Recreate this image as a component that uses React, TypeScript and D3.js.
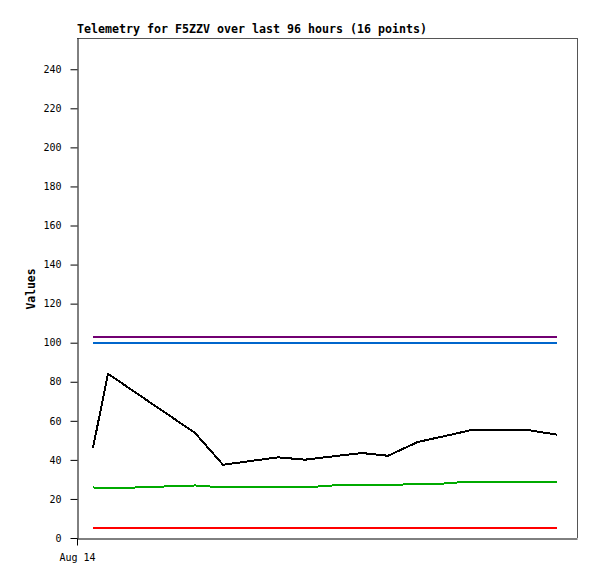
import React, { useEffect, useRef } from "react";
import * as d3 from "d3";

const title = "Telemetry for F5ZZV over last 96 hours (16 points)";
const yLabel = "Values";

const times = [
  "2024-08-14T03:04", "2024-08-14T05:57", "2024-08-14T11:43", "2024-08-14T17:05",
  "2024-08-14T22:39", "2024-08-15T04:02", "2024-08-15T14:35", "2024-08-15T19:47",
  "2024-08-16T01:09", "2024-08-16T06:43", "2024-08-16T11:43", "2024-08-16T17:28",
  "2024-08-16T22:28", "2024-08-17T03:27", "2024-08-17T14:59", "2024-08-17T20:10",
];

const blackValues = [46.1, 84.1, 73.6, 63.9, 53.8, 37.5, 41.3, 40.1, 41.8, 43.5, 42.1, 49.2, 52.1, 55.1, 55.1, 52.9];
const greenValues = [25.9, 25.4, 25.9, 26.4, 26.9, 25.9, 25.9, 25.9, 26.9, 26.9, 26.9, 27.9, 27.9, 28.9, 28.9, 28.9];
const purpleValues = [102.7, 102.7, 102.7, 102.7, 102.7, 102.7, 102.7, 102.7, 102.7, 102.7, 102.7, 102.7, 102.7, 102.7, 102.7, 102.7];
const blueValues = [99.6, 99.6, 99.6, 99.6, 99.6, 99.6, 99.6, 99.6, 99.6, 99.6, 99.6, 99.6, 99.6, 99.6, 99.6, 99.6];
const redValues = [4.9, 4.9, 4.9, 4.9, 4.9, 4.9, 4.9, 4.9, 4.9, 4.9, 4.9, 4.9, 4.9, 4.9, 4.9, 4.9];

const yTicks = [0, 20, 40, 60, 80, 100, 120, 140, 160, 180, 200, 220, 240];
const xTickDates = ["2024-08-14T00:00"];
const xTickLabels = ["Aug 14"];
const xDomain = ["2024-08-14T00:00", "2024-08-18T00:00"];
const yDomain = [0, 256];

const seriesList = [
  { name: "purple", values: purpleValues, color: "#720072" },
  { name: "blue", values: blueValues, color: "#0066cc" },
  { name: "red", values: redValues, color: "#ff0000" },
  { name: "green", values: greenValues, color: "#00aa00" },
  { name: "black", values: blackValues, color: "#000000" },
];

const W = 597;
const H = 579;
const left = 77;
const right = 577;
const top = 38;
const bottom = 538;

export default function App() {
  const yAxisRef = useRef<SVGGElement>(null);
  const xAxisRef = useRef<SVGGElement>(null);

  const parse = (s: string) => new Date(s);
  const x = d3.scaleTime().domain(xDomain.map(parse)).range([left, right]);
  const y = d3.scaleLinear().domain(yDomain).range([bottom, top]);
  const dates = times.map(parse);

  useEffect(() => {
    const ya = d3
      .axisLeft(y)
      .tickValues(yTicks)
      .tickSize(7)
      .tickSizeOuter(0)
      .tickPadding(9)
      .tickFormat((d) => String(d));
    const g = d3.select(yAxisRef.current!);
    g.call(ya as any);
    g.select(".domain").attr("stroke", "#000");
    g.selectAll(".tick line").attr("stroke", "#000");
    g.selectAll(".tick text")
      .attr("font-family", "DejaVu Sans Mono, monospace")
      .attr("font-size", 10)
      .attr("fill", "#000");

    const xa = d3
      .axisBottom(x)
      .tickValues(xTickDates.map(parse))
      .tickSize(7)
      .tickSizeOuter(0)
      .tickPadding(8)
      .tickFormat((_d, i) => xTickLabels[i]);
    const gx = d3.select(xAxisRef.current!);
    gx.call(xa as any);
    gx.select(".domain").attr("stroke", "#000");
    gx.selectAll(".tick line").attr("stroke", "#000");
    gx.selectAll(".tick text")
      .attr("font-family", "DejaVu Sans Mono, monospace")
      .attr("font-size", 10)
      .attr("fill", "#000");
  }, []);

  const line = d3
    .line<number>()
    .x((_d, i) => x(dates[i]))
    .y((d) => y(d));

  return (
    <svg
      width={W}
      height={H}
      style={{ position: "absolute", left: 0, top: 0, background: "#fff" }}
    >
      <rect x={0} y={0} width={W} height={H} fill="#fff" />
      <line x1={left} x2={right + 0.5} y1={top + 0.5} y2={top + 0.5} stroke="#555" />
      <line x1={right + 0.5} x2={right + 0.5} y1={top} y2={bottom} stroke="#555" />
      {seriesList.map((s) => (
        <path
          key={s.name}
          d={line(s.values) || ""}
          fill="none"
          stroke={s.color}
          strokeWidth={2}
          strokeLinejoin="round"
          shapeRendering="crispEdges"
        />
      ))}
      <g ref={yAxisRef} transform={`translate(${left + 0.5},0)`} />
      <g ref={xAxisRef} transform={`translate(0,${bottom + 0.5})`} />
      <text
        x={left}
        y={33}
        fontFamily="DejaVu Sans Mono, monospace"
        fontWeight="bold"
        fontSize={11.4}
        textLength={350}
        lengthAdjust="spacingAndGlyphs"
        fill="#000"
      >
        {title}
      </text>
      <text
        transform="translate(35,289) rotate(-90)"
        textAnchor="middle"
        fontFamily="DejaVu Sans Mono, monospace"
        fontWeight="bold"
        fontSize={11.4}
        fill="#000"
      >
        {yLabel}
      </text>
    </svg>
  );
}
